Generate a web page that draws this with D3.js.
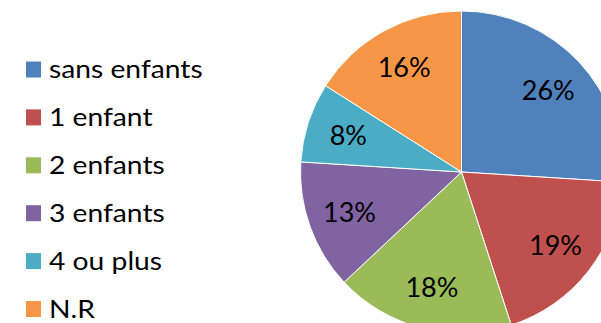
<!DOCTYPE html>
<html><head><meta charset="utf-8">
<script src="https://cdn.jsdelivr.net/npm/d3@7"></script>
<style>html,body{margin:0;padding:0;background:#fff;overflow:hidden}</style>
</head><body>
<svg id="chart" width="601" height="323"></svg>
<script>
const categories = ["sans enfants", "1 enfant", "2 enfants", "3 enfants", "4 ou plus", "N.R"];
const values = [26, 19, 18, 13, 8, 16];
const colors = ["#4F81BD", "#C0504D", "#9BBB59", "#8064A2", "#4BACC6", "#F79646"];

const svg = d3.select("#chart");
const cx = 461.5, cy = 172, r = 161;
const font = "Lato, 'Open Sans', sans-serif";

const pie = d3.pie().sort(null).value(d => d.v);
const data = pie(categories.map((c, i) => ({c, v: values[i], col: colors[i]})));
const arc = d3.arc().innerRadius(0).outerRadius(r);
const labelArc = d3.arc().innerRadius(119).outerRadius(119);

const g = svg.append("g").attr("transform", `translate(${cx},${cy})`);
g.selectAll("path").data(data).join("path")
  .attr("d", arc).attr("fill", d => d.data.col)
  .attr("stroke", "#fff").attr("stroke-width", 1);
g.selectAll("text").data(data).join("text")
  .attr("transform", d => `translate(${labelArc.centroid(d)})`)
  .attr("text-anchor", "middle").attr("dy", "0.36em")
  .attr("font-family", font).attr("font-size", 27).attr("fill", "#000")
  .text(d => d.data.v + "%");

const color = d3.scaleOrdinal().domain(categories).range(colors);
const y = d3.scalePoint().domain(categories).range([69.5, 309]);
const leg = svg.append("g");
const rows = leg.selectAll("g").data(categories).join("g")
  .attr("transform", d => `translate(0,${y(d)})`);
rows.append("rect").attr("x", 26).attr("y", -8).attr("width", 15).attr("height", 16)
  .attr("fill", d => color(d));
rows.append("text").attr("transform", "translate(49,0) scale(1.13,1)").attr("dy", "0.35em")
  .attr("font-family", font).attr("font-size", 25).attr("fill", "#000")
  .text(d => d);
</script>
</body></html>
